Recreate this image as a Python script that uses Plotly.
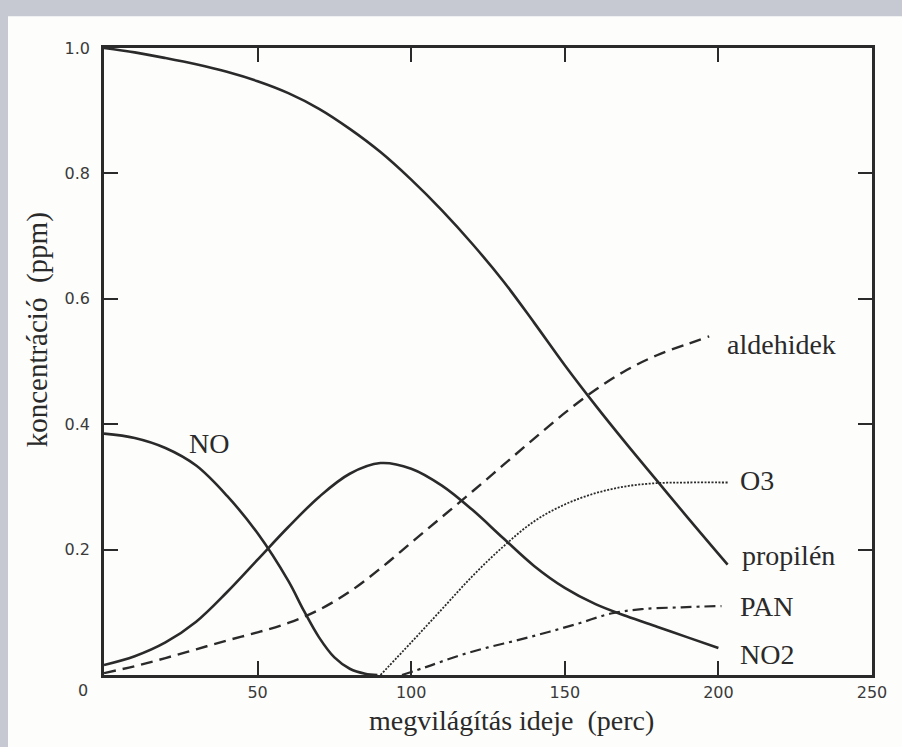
import plotly.graph_objects as go

# ---- data ----
propilen_x = [0, 10, 20, 30, 40, 50, 60, 70, 80, 90, 100, 110, 120, 130, 140, 150, 160, 170, 180, 190, 203]
propilen_y = [1.0, 0.993, 0.984, 0.974, 0.962, 0.947, 0.928, 0.903, 0.871, 0.834, 0.79, 0.741, 0.687, 0.628, 0.562, 0.494, 0.43, 0.369, 0.31, 0.251, 0.176]

no_x = [0, 10, 20, 30, 40, 50, 60, 65, 70, 75, 80, 85, 89]
no_y = [0.385, 0.378, 0.362, 0.334, 0.286, 0.226, 0.15, 0.103, 0.06, 0.028, 0.01, 0.002, 0.0]

no2_x = [0, 10, 20, 30, 40, 50, 60, 70, 80, 90, 100, 110, 120, 130, 140, 150, 160, 170, 180, 190, 200]
no2_y = [0.016, 0.03, 0.052, 0.085, 0.132, 0.184, 0.236, 0.284, 0.321, 0.338, 0.329, 0.302, 0.263, 0.218, 0.174, 0.139, 0.113, 0.094, 0.077, 0.06, 0.043]

ald_x = [0, 10, 20, 30, 40, 50, 60, 70, 80, 90, 100, 110, 120, 130, 140, 150, 160, 170, 180, 190, 197]
ald_y = [0.003, 0.014, 0.027, 0.041, 0.055, 0.068, 0.083, 0.104, 0.133, 0.17, 0.211, 0.252, 0.293, 0.335, 0.377, 0.418, 0.455, 0.486, 0.51, 0.528, 0.54]

o3_x = [90, 100, 110, 120, 130, 140, 150, 160, 170, 180, 190, 203]
o3_y = [0.0, 0.052, 0.105, 0.158, 0.205, 0.245, 0.272, 0.29, 0.301, 0.306, 0.307, 0.307]

pan_x = [97, 105, 115, 125, 135, 145, 155, 165, 175, 188, 201]
pan_y = [0.0, 0.013, 0.03, 0.044, 0.056, 0.069, 0.083, 0.098, 0.105, 0.108, 0.11]

x_tickvals = [50, 100, 150, 200, 250]
x_ticktext = ["50", "100", "150", "200", "250"]
y_tickvals = [0.2, 0.4, 0.6, 0.8, 1.0]
y_ticktext = ["0.2", "0.4", "0.6", "0.8", "1.0"]

labels_text = ["aldehidek", "O3", "propilén", "PAN", "NO2", "NO"]
labels_x = [202, 206.5, 207, 206.5, 206.5, 27]
labels_y = [0.527, 0.31, 0.19, 0.11, 0.032, 0.37]

INK = "#2a2a2a"
SERIF = "Liberation Serif"

fig = go.Figure()

def add(x, y, dash, width=2.6):
    fig.add_trace(go.Scatter(x=x, y=y, mode="lines",
                             line=dict(color=INK, width=width, dash=dash, shape="spline", smoothing=1.0),
                             hoverinfo="skip", showlegend=False))

add(propilen_x, propilen_y, "solid")
add(no_x, no_y, "solid")
add(no2_x, no2_y, "solid")
add(ald_x, ald_y, "12px,7px", 2.4)
add(o3_x, o3_y, "2px,1.5px", 1.8)
add(pan_x, pan_y, "11px,5px,3px,5px", 2.2)

for t, lx, ly in zip(labels_text, labels_x, labels_y):
    fig.add_annotation(x=lx, y=ly, xref="x", yref="y", text=t, showarrow=False,
                       xanchor="left", yanchor="middle",
                       font=dict(family=SERIF, size=28, color=INK))

# axis titles and the shared corner "0"
fig.add_annotation(x=0.53, y=-0.072, xref="paper", yref="paper",
                   text="megvilágítás ideje  (perc)", showarrow=False,
                   xanchor="center", yanchor="middle",
                   font=dict(family=SERIF, size=28, color=INK))
fig.add_annotation(x=-0.087, y=0.55, xref="paper", yref="paper",
                   text="koncentráció  (ppm)", showarrow=False, textangle=-90,
                   xanchor="center", yanchor="middle",
                   font=dict(family=SERIF, size=29, color=INK))
fig.add_annotation(x=-0.027, y=-0.024, xref="paper", yref="paper",
                   text="0", showarrow=False, xanchor="center", yanchor="middle",
                   font=dict(family="DejaVu Sans", size=16, color="#3a3a3a"))

# scanned page edges
fig.add_shape(type="rect", xref="paper", yref="paper", x0=-0.14, x1=-0.125, y0=-0.2, y1=1.1,
              fillcolor="#c6c9d1", line=dict(width=0), layer="below")
fig.add_shape(type="rect", xref="paper", yref="paper", x0=-0.14, x1=1.1, y0=1.0505, y1=1.1,
              fillcolor="#c6c9d1", line=dict(width=0), layer="below")

axis_common = dict(showline=True, linewidth=2.5, linecolor=INK, mirror="ticks",
                   ticks="inside", ticklen=14, tickwidth=2, tickcolor=INK,
                   showgrid=False, zeroline=False,
                   tickfont=dict(family="DejaVu Sans", size=16, color="#3a3a3a"))

fig.update_xaxes(range=[0, 250], tickvals=x_tickvals, ticktext=x_ticktext,
                 ticklabelstandoff=1, **axis_common)
fig.update_yaxes(range=[0, 1.0], tickvals=y_tickvals, ticktext=y_ticktext,
                 ticklabelstandoff=8, **axis_common)

fig.update_layout(width=902, height=747,
                  margin=dict(l=104, r=30, t=48, b=72),
                  paper_bgcolor="#fdfdfc", plot_bgcolor="#fdfdfc")

fig.write_html("out.html")
